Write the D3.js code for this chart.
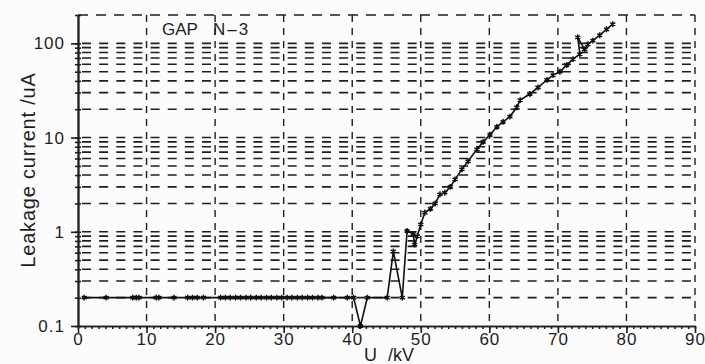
<!DOCTYPE html>
<html>
<head>
<meta charset="utf-8">
<script src="https://cdn.jsdelivr.net/npm/d3@7"></script>
<style>
body {margin:0; background:#fcfcfc;}
text {font-family:'Liberation Sans', Arial, sans-serif; fill:#1e1e1e;}
</style>
</head>
<body>
<div id="chart"></div>
<script>
// values
var voltage = [0.9, 4.1, 8.0, 8.5, 8.9, 11.4, 11.8, 14.0, 16.0, 16.7, 17.4, 18.3, 20.8, 21.5, 22.2, 23.0,
	23.7, 24.5, 25.2, 26.0, 26.7, 27.5, 28.2, 29.0, 29.7, 30.5, 31.2, 32.0, 32.7, 33.5, 34.2, 35.0, 35.6,
	37.3, 39.3, 40.2, 41.2, 42.2, 45.1, 46.0, 47.3, 48.0, 48.9, 49.1, 49.5, 50.0, 50.6, 51.4, 52.1, 52.8,
	53.5, 54.3, 55.0, 56.0, 56.9, 58.2, 59.1, 60.1, 61.1, 62.0, 63.0, 64.0, 64.5, 65.9, 67.1, 68.4, 69.3,
	70.3, 71.3, 72.2, 73.2, 72.9, 73.9, 74.4, 75.1, 76.1, 77.1, 78.0];
var current = [0.2, 0.2, 0.2, 0.2, 0.2, 0.2, 0.2, 0.2, 0.2, 0.2, 0.2, 0.2, 0.2, 0.2, 0.2, 0.2,
	0.2, 0.2, 0.2, 0.2, 0.2, 0.2, 0.2, 0.2, 0.2, 0.2, 0.2, 0.2, 0.2, 0.2, 0.2, 0.2, 0.2,
	0.2, 0.2, 0.2, 0.1, 0.2, 0.2, 0.62, 0.2, 1.02, 0.95, 0.73, 0.9, 1.2, 1.6, 1.75, 2.0, 2.5,
	2.6, 3.0, 3.6, 4.6, 5.6, 7.5, 9.0, 10.7, 13, 14.7, 16.7, 21, 25, 29, 34, 41, 46,
	50, 59, 68, 77, 116, 86, 98, 107, 122, 141, 160];
var xTicks = [0, 10, 20, 30, 40, 50, 60, 70, 80, 90];
var yTicks = [0.1, 1, 10, 100];
var yTickLabels = ['0.1', '1', '10', '100'];

// chart parameters
var svpWidth = 705;
var svpHeight = 364;
var margin = {top:15, right:10, bottom:38, left:78};
var width = svpWidth-margin.left-margin.right;
var height = svpHeight-margin.top-margin.bottom;
var ink = '#1e1e1e';

var svg = d3.select('#chart')
	.append('svg')
	.attr('width', svpWidth)
	.attr('height', svpHeight)
	.append('g')
	.attr('transform', 'translate('+margin.left+','+margin.top+')');

var x = d3.scaleLinear().domain([0, 90]).range([0, width]);
var y = d3.scaleLog().domain([0.1, 200]).range([height, 0]);

// horizontal dashed grid at every log step
svg.append('g')
	.selectAll('line')
	.data(y.ticks().filter(d=>d>0.1 && d<200))
	.enter()
	.append('line')
	.attr('x1', 0)
	.attr('x2', width)
	.attr('y1', d=>y(d))
	.attr('y2', d=>y(d))
	.style('stroke', ink)
	.style('stroke-width', 1.6)
	.style('stroke-dasharray', '9,8.14')
	.style('stroke-dashoffset', -4);
// vertical dashed grid
svg.append('g')
	.selectAll('line')
	.data(xTicks.filter(d=>d>0 && d<90))
	.enter()
	.append('line')
	.attr('x1', d=>x(d))
	.attr('x2', d=>x(d))
	.attr('y1', 0)
	.attr('y2', height)
	.style('stroke', ink)
	.style('stroke-width', 1.4)
	.style('stroke-dasharray', '7,6');
// dashed frame top and right
svg.append('line')
	.attr('x1', 0).attr('x2', width).attr('y1', 0).attr('y2', 0)
	.style('stroke', ink).style('stroke-width', 1.6).style('stroke-dasharray', '10,8');
svg.append('line')
	.attr('x1', width).attr('x2', width).attr('y1', 0).attr('y2', height)
	.style('stroke', ink).style('stroke-width', 1.4).style('stroke-dasharray', '7,6');

// x-axis
var xAxis = svg.append('g')
	.attr('transform', 'translate(0,'+height+')');
xAxis.append('g')
	.call(d3.axisBottom(x).tickValues(d3.range(0, 91)).tickSize(3).tickSizeOuter(0).tickFormat(''));
xAxis.append('g')
	.call(d3.axisBottom(x).tickValues(xTicks).tickSize(7).tickSizeOuter(0).tickPadding(0));
xAxis.selectAll('text')
	.style('font-size', '17px')
	.style('letter-spacing', '1px');
// y-axis
var yAxis = svg.append('g');
yAxis.append('g')
	.call(d3.axisLeft(y).tickValues(y.ticks()).tickSize(3).tickSizeOuter(0).tickFormat(''));
yAxis.append('g')
	.call(d3.axisRight(y).tickValues(y.ticks()).tickSize(3).tickSizeOuter(0).tickFormat(''));
yAxis.append('g')
	.call(d3.axisLeft(y).tickValues(yTicks).tickSize(7).tickSizeOuter(0).tickPadding(6)
		.tickFormat((d, i)=>yTickLabels[i]));
yAxis.selectAll('text')
	.style('font-size', '17px')
	.style('letter-spacing', '1px');
svg.selectAll('.domain, .tick line')
	.style('stroke', ink)
	.style('stroke-width', 1.6);

// axis titles
svg.append('text')
	.attr('text-anchor', 'middle')
	.attr('transform', 'rotate(-90)')
	.attr('x', -(170-margin.top))
	.attr('y', -margin.left+35)
	.style('font-size', '20px')
	.style('letter-spacing', '0.8px')
	.text('Leakage current /uA');
svg.append('text')
	.attr('x', 364-margin.left)
	.attr('y', 361-margin.top)
	.style('font-size', '18px')
	.text('U');
svg.append('text')
	.attr('x', 388-margin.left)
	.attr('y', 361-margin.top)
	.style('font-size', '18px')
	.text('/kV');
// panel label
svg.append('text')
	.attr('x', 162-margin.left)
	.attr('y', 35-margin.top)
	.style('font-size', '17px')
	.text('GAP');
svg.append('text')
	.attr('x', 213-margin.left)
	.attr('y', 35-margin.top)
	.style('font-size', '17px')
	.style('letter-spacing', '2px')
	.text('N\u20133');

// leakage curve
var pts = voltage.map((v, i)=>[v, current[i]]);
svg.append('path')
	.datum(pts)
	.attr('d', d3.line().x(d=>x(d[0])).y(d=>y(d[1])))
	.style('fill', 'none')
	.style('stroke', '#111')
	.style('stroke-width', 1.6);
svg.append('g')
	.selectAll('path')
	.data(pts)
	.enter()
	.append('path')
	.attr('transform', d=>'translate('+x(d[0])+','+y(d[1])+')')
	.attr('d', d3.symbol(d3.symbolAsterisk).size(24))
	.style('fill', 'none')
	.style('stroke', '#111')
	.style('stroke-width', 1.5);
</script>
</body>
</html>
